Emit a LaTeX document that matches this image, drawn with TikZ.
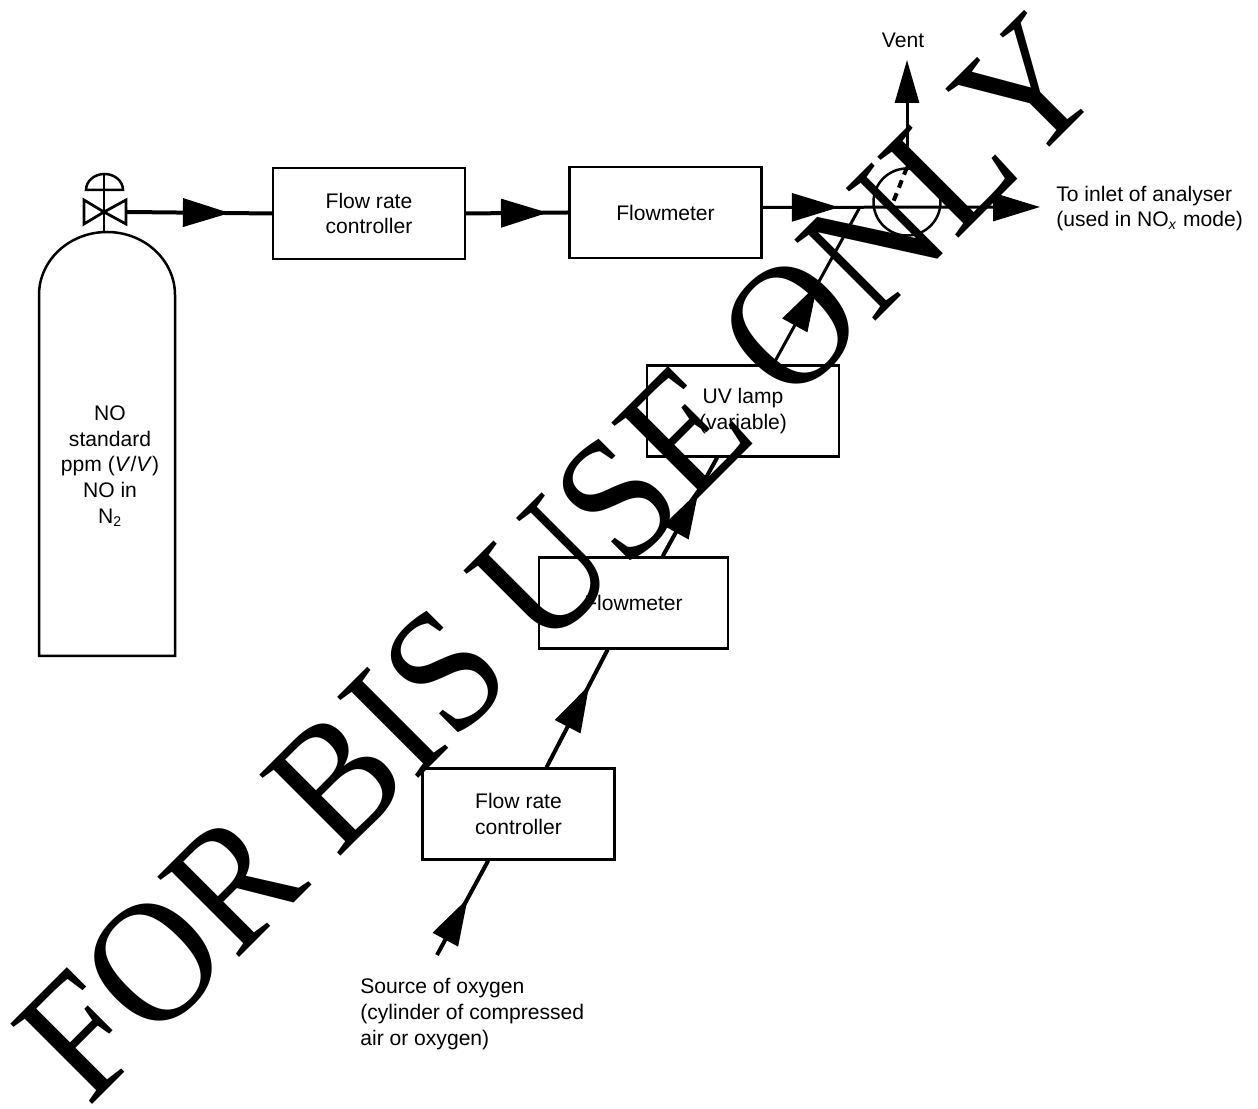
\documentclass[tikz,border=0pt]{standalone}
\usepackage{fontspec}
\usepackage{xcolor}
\setmainfont{Liberation Sans}
\newfontfamily\markfont[FakeStretch=0.93, Kerning=Off]{Liberation Serif}
\usetikzlibrary{arrows.meta, decorations.markings}

\tikzset{
    flowhead/.tip={Triangle[length=0.94cm, width=0.56cm]},
    unitbox/.style={draw, line width=0.045cm, minimum width=3.84cm, minimum height=1.82cm, inner sep=0pt, align=center},
    labeltext/.style={inner sep=0pt, font=\fontsize{12}{14.6}\selectfont},
    pipe/.style={line width=0.06cm},
    thickpipe/.style={line width=0.08cm},
    midhead/.style={postaction={decorate}, decoration={markings, mark=at position #1 with {\arrow{flowhead}}}}
}

\begin{document}
\begin{tikzpicture}[x=0.02cm, y=0.02cm]
    \useasboundingbox (0,0) rectangle (1258,1109);

    % Draw the cylinder
    \draw[line width=0.05cm] (39,453) -- (39,814) arc[start angle=180, end angle=0, x radius=68, y radius=63] -- (175,453) -- cycle;
    \node[labeltext, align=center] (standard) at (110,643) {NO\\standard\\ppm (\textit{V}/\textit{V})\\NO in\\N\textsubscript{2}};

    % Draw the valve
    \draw[line width=0.055cm] (104,877) -- (104,934);
    \draw[line width=0.055cm] (104,897) -- (84,909) -- (84,885) -- cycle;
    \draw[line width=0.055cm] (104,897) -- (126,909) -- (126,885) -- cycle;
    \draw[line width=0.05cm] (86,919) arc[start angle=180, end angle=0, x radius=18.5, y radius=16] -- cycle;
    \coordinate (valve) at (127,897);

    % Place the units
    \node[unitbox, labeltext] (controllera) at (369,895.5) {Flow rate\\controller};
    \node[unitbox, labeltext] (flowmetera) at (665.5,896.5) {Flowmeter};
    \node[unitbox, labeltext] (controllerb) at (518.5,295) {Flow rate\\controller};
    \node[unitbox, labeltext, minimum width=3.78cm] (flowmeterb) at (633.5,506) {Flowmeter};
    \node[unitbox, labeltext] (lamp) at (743,698) {UV lamp\\(variable)};

    % Draw the switching valve
    \node[draw, circle, line width=0.05cm, minimum size=1.34cm, inner sep=0pt] (switch) at (907,907) {};
    \coordinate (junction) at (860,902);
    \coordinate (switchin) at (892,904);
    \coordinate (vent) at (907,1049);
    \coordinate (inlet) at (1040,902);
    \coordinate (oxygen) at (437,154);

    % Draw the top line
    \draw[thickpipe, midhead=0.71] (valve) -- (controllera.west);
    \draw[thickpipe, midhead=0.80] (controllera.east) -- (flowmetera.west);
    \draw[pipe, midhead=0.275, -{flowhead}] (flowmetera.3) -- (inlet);
    \draw[pipe, -{Triangle[length=0.86cm, width=0.48cm]}] (switch.north) -- (vent);
    \draw[line width=0.08cm, dash pattern=on 0.16cm off 0.12cm] (switch.north) -- (switchin);

    % Draw the oxygen line
    \draw[thickpipe, midhead=0.60] (oxygen) -- (controllerb.237.6);
    \draw[thickpipe, midhead=0.70] (controllerb.59) -- (flowmeterb.241);
    \draw[thickpipe, midhead=0.66] (flowmeterb.58.8) -- (lamp.241);
    \draw[pipe, midhead=0.51] (lamp.57.8) -- (junction);

    % Place the labels
    \node[labeltext] (ventlabel) at (903,1069) {Vent};
    \node[labeltext, anchor=west, align=left] (inletlabel) at (1056,900.5) {To inlet of analyser\\(used in NO\textsubscript{\textit{x}} mode)};
    \node[labeltext, anchor=west, align=left] (oxygenlabel) at (360,95) {Source of oxygen\\(cylinder of compressed\\air or oxygen)};

    % Stamp across the drawing
    \node[rotate=45, anchor=base west, inner sep=0pt, font=\markfont\fontsize{99.6}{100}\selectfont] (stamp) at (88,0) {FOR\kern-.023em\ BIS\kern-.023em\ USE ONLY};
\end{tikzpicture}
\end{document}
